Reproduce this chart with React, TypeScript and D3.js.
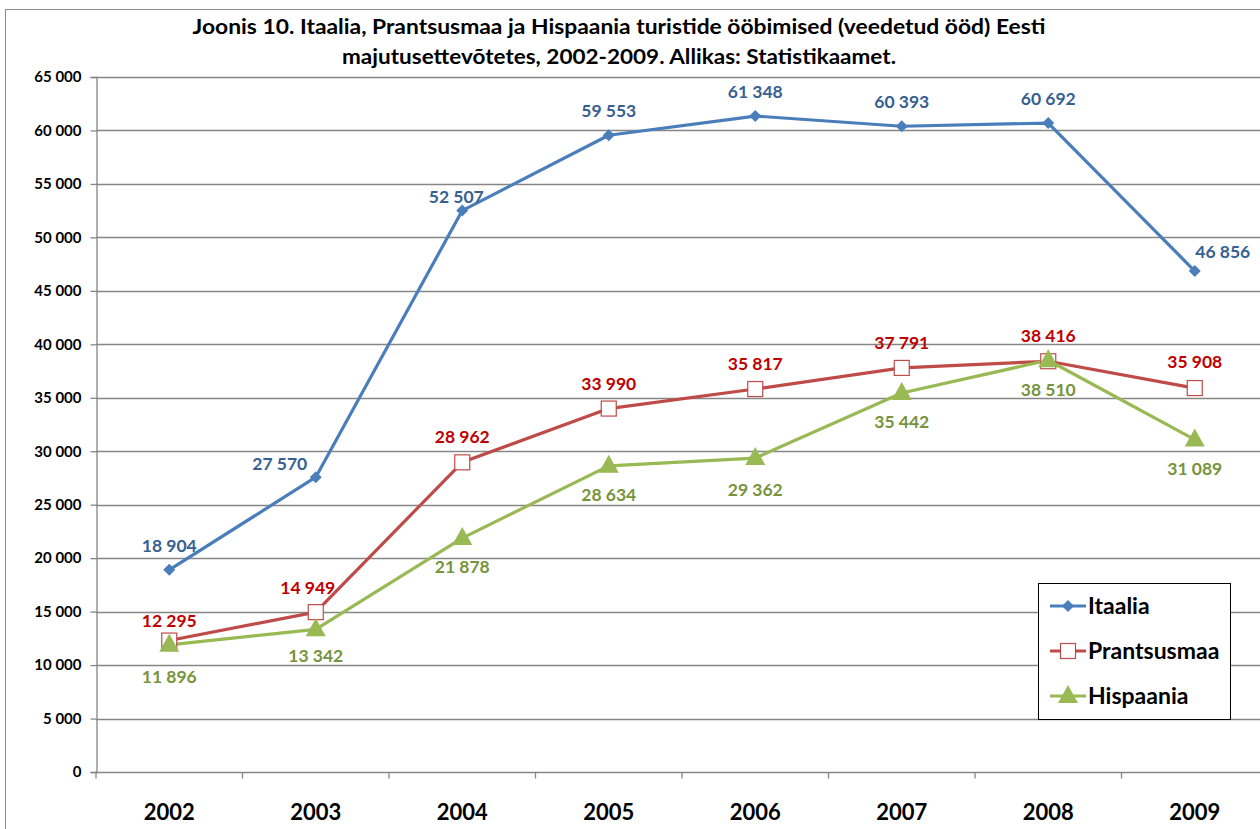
import React, { useEffect, useRef } from 'react'
import * as d3 from 'd3'

const years = ['2002', '2003', '2004', '2005', '2006', '2007', '2008', '2009']
const itaalia = [18904, 27570, 52507, 59553, 61348, 60393, 60692, 46856]
const prantsusmaa = [12295, 14949, 28962, 33990, 35817, 37791, 38416, 35908]
const hispaania = [11896, 13342, 21878, 28634, 29362, 35442, 38510, 31089]
const yTicks = [0, 5000, 10000, 15000, 20000, 25000, 30000, 35000, 40000, 45000, 50000, 55000, 60000, 65000]

// label offsets (px) relative to the point, per series
const itaaliaDx = [0, -36, -6, 0, 0, 0, 0, 28]
const itaaliaDy = [-24, -13, -14, -24, -24, -24, -24, -19]
const prantsDx = [0, -8, 0, 0, 0, 0, 0, 0]
const prantsDy = [-20, -24, -25, -25, -25, -25, -25, -26]
const hispDx = [0, 0, 0, 0, 0, 0, 0, 0]
const hispDy = [32, 27, 29, 29, 32, 29, 30, 29]

const FONT = 'Lato, "Open Sans", sans-serif'
const fmt = (v: number) => d3.format(',')(v).replace(/,/g, ' ')

const series = [
  { name: 'Itaalia', values: itaalia, line: '#4A7EBB', label: '#376092', marker: 'diamond', dx: itaaliaDx, dy: itaaliaDy },
  { name: 'Prantsusmaa', values: prantsusmaa, line: '#BE4B48', label: '#C00000', marker: 'square', dx: prantsDx, dy: prantsDy },
  { name: 'Hispaania', values: hispaania, line: '#98B954', label: '#77933C', marker: 'triangle', dx: hispDx, dy: hispDy },
]

function drawMarker(g: any, kind: string, color: string, x: number, y: number) {
  if (kind === 'diamond') {
    g.append('path')
      .attr('d', `M${x},${y - 6}L${x + 6},${y}L${x},${y + 6}L${x - 6},${y}Z`)
      .attr('fill', color)
  } else if (kind === 'square') {
    g.append('rect')
      .attr('x', x - 7.5).attr('y', y - 7.5)
      .attr('width', 15).attr('height', 15)
      .attr('fill', 'white').attr('stroke', color).attr('stroke-width', 1.2)
  } else {
    g.append('path')
      .attr('d', `M${x},${y - 11}L${x + 10},${y + 7}L${x - 10},${y + 7}Z`)
      .attr('fill', color)
  }
}

const App = () => {
  const ref = useRef<SVGSVGElement>(null)

  useEffect(() => {
    const svg = d3.select(ref.current)
    svg.selectAll('*').remove()

    const left = 96
    const top = 77
    const bottom = 772
    const step = 146.5
    const right = left + step * years.length

    const x = d3.scaleBand().domain(years).range([left, right])
    const y = d3.scaleLinear().domain([0, 65000]).range([bottom, top])

    // outer chart border
    svg.append('rect')
      .attr('x', 5.5).attr('y', 9.5)
      .attr('width', 1300).attr('height', 900)
      .attr('fill', 'white').attr('stroke', '#8c8c8c')

    // title
    const title = svg.append('g').attr('font-family', FONT).attr('font-weight', 'bold')
      .attr('font-size', 20).attr('text-anchor', 'middle').attr('fill', '#000')
    title.append('text').attr('x', 619).attr('y', 34)
      .attr('textLength', 853).attr('lengthAdjust', 'spacingAndGlyphs')
      .text('Joonis 10. Itaalia, Prantsusmaa ja Hispaania turistide ööbimised (veedetud ööd) Eesti')
    title.append('text').attr('x', 619).attr('y', 64)
      .attr('textLength', 554).attr('lengthAdjust', 'spacingAndGlyphs')
      .text('majutusettevõtetes, 2002-2009. Allikas: Statistikaamet.')

    // gridlines
    svg.append('g').selectAll('line').data(yTicks.filter(t => t > 0)).enter()
      .append('line')
      .attr('x1', left).attr('x2', right)
      .attr('y1', d => Math.round(y(d)) + 0.5).attr('y2', d => Math.round(y(d)) + 0.5)
      .attr('stroke', '#868686').attr('stroke-width', 1.3)

    // y axis
    const yAxis = svg.append('g').attr('transform', `translate(${left + 0.5},0)`)
      .call(d3.axisLeft(y).tickValues(yTicks).tickSize(6).tickFormat(d => fmt(d as number)))
    yAxis.select('.domain').attr('stroke', '#868686').attr('stroke-width', 1.3)
    yAxis.selectAll('.tick line').attr('stroke', '#868686').attr('stroke-width', 1.3)
    yAxis.selectAll('.tick text').attr('font-family', FONT).attr('font-weight', 'bold')
      .attr('font-size', 15).attr('fill', '#000').attr('x', -15)

    // x axis
    const xAxis = svg.append('g').attr('transform', `translate(0,${bottom + 0.5})`)
    xAxis.append('line').attr('x1', left).attr('x2', right).attr('stroke', '#868686').attr('stroke-width', 1.3)
    xAxis.selectAll('line.tk').data(d3.range(years.length + 1)).enter()
      .append('line').attr('class', 'tk')
      .attr('x1', i => left + i * x.bandwidth()).attr('x2', i => left + i * x.bandwidth())
      .attr('y1', 0).attr('y2', 6)
      .attr('stroke', '#868686').attr('stroke-width', 1.3)
    xAxis.selectAll('text').data(years).enter()
      .append('text')
      .attr('x', d => (x(d) as number) + x.bandwidth() / 2)
      .attr('y', 47)
      .attr('text-anchor', 'middle')
      .attr('font-family', FONT).attr('font-weight', 'bold').attr('font-size', 22)
      .text(d => d)

    const cx = (i: number) => (x(years[i]) as number) + x.bandwidth() / 2

    // lines
    const line = d3.line<number>().x((_, i) => cx(i)).y(d => y(d))
    series.forEach(s => {
      svg.append('path').datum(s.values)
        .attr('d', line).attr('fill', 'none')
        .attr('stroke', s.line).attr('stroke-width', 3.2)
        .attr('stroke-linejoin', 'round')
    })

    // markers and labels
    series.forEach(s => {
      const g = svg.append('g')
      s.values.forEach((v, i) => drawMarker(g, s.marker, s.line, cx(i), y(v)))
      g.selectAll('text').data(s.values).enter()
        .append('text')
        .attr('x', (_, i) => cx(i) + s.dx[i])
        .attr('y', (d, i) => y(d) + s.dy[i])
        .attr('dy', '0.35em')
        .attr('text-anchor', 'middle')
        .attr('font-family', FONT).attr('font-weight', 'bold').attr('font-size', 17.5)
        .attr('fill', s.label)
        .text(d => fmt(d))
    })

    // legend
    const lg = svg.append('g').attr('transform', 'translate(1038,583)')
    lg.append('rect').attr('x', 0.5).attr('y', 0.5).attr('width', 192).attr('height', 136)
      .attr('fill', 'white').attr('stroke', '#000').attr('stroke-width', 1)
    series.forEach((s, i) => {
      const ly = 23 + i * 45
      lg.append('line').attr('x1', 12).attr('x2', 48).attr('y1', ly).attr('y2', ly)
        .attr('stroke', s.line).attr('stroke-width', 3.2)
      drawMarker(lg, s.marker, s.line, 30, ly)
      lg.append('text').attr('x', 50).attr('y', ly).attr('dy', '0.36em')
        .attr('font-family', FONT).attr('font-weight', 'bold').attr('font-size', 23)
        .text(s.name)
    })
  }, [])

  return (
    <svg ref={ref} width={1260} height={829}
      style={{ position: 'absolute', left: 0, top: 0, background: 'white' }} />
  )
}

export default App
